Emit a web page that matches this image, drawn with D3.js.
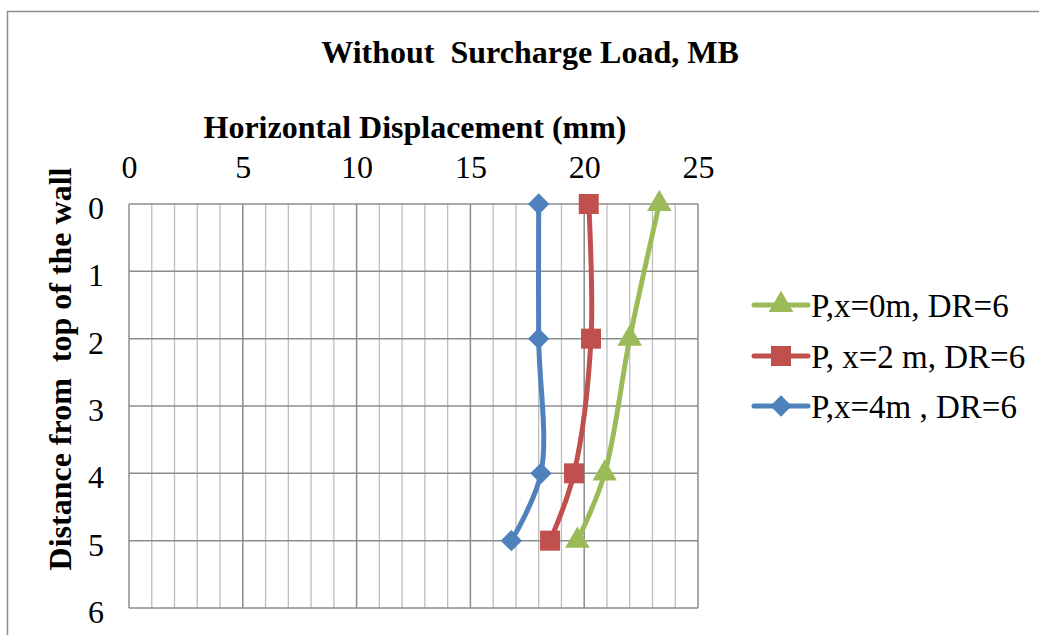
<!DOCTYPE html>
<html><head><meta charset="utf-8">
<script src="https://cdn.jsdelivr.net/npm/d3@7"></script>
<style>
body{margin:0;background:#fff;}
svg{display:block;font-family:"Liberation Serif","Times New Roman",serif;}
text{white-space:pre;}
</style></head>
<body><svg id="c" width="1039" height="635"></svg>
<script>
const title = "Without  Surcharge Load, MB";
const xTitle = "Horizontal Displacement (mm)";
const yTitle = "Distance from  top of the wall";
const xTicks = [0, 5, 10, 15, 20, 25];
const yTicks = [0, 1, 2, 3, 4, 5, 6];
const depths = [0, 2, 4, 5];
const seriesNames = ["P,x=0m, DR=6", "P, x=2 m, DR=6", "P,x=4m , DR=6"];
const dispX0 = [23.3, 22.0, 20.9, 19.7];
const dispX2 = [20.2, 20.3, 19.55, 18.5];
const dispX4 = [18.0, 18.0, 18.1, 16.8];
const colors = ["#9BBB59", "#C0504D", "#4F81BD"];
const markers = [d3.symbolTriangle, d3.symbolSquare, d3.symbolDiamond2];
const markerSizes = [260, 400, 290];

const series = [dispX0, dispX2, dispX4].map((v, i) => ({name: seriesNames[i], values: v, color: colors[i], marker: markers[i], size: markerSizes[i]}));

const svg = d3.select("#c");
const L = 129, R = 698, T = 204, B = 608;
const x = d3.scaleLinear().domain([0, 25]).range([L, R]);
const y = d3.scaleLinear().domain([0, 6]).range([T, B]);
const FS = 32;

// outer frame
svg.append("rect").attr("x", 7.5).attr("y", 11.5).attr("width", 1100).attr("height", 700)
  .attr("fill", "none").attr("stroke", "#8c8c8c").attr("stroke-width", 1.5);

// minor vertical gridlines
const minor = d3.range(0, 26, 1).filter(d => d % 5 !== 0);
svg.append("g").selectAll("line").data(minor).join("line")
  .attr("x1", d => x(d)).attr("x2", d => x(d)).attr("y1", T).attr("y2", B)
  .attr("stroke", "#bdbdbd").attr("stroke-width", 1.3);
// major vertical
svg.append("g").selectAll("line").data(xTicks).join("line")
  .attr("x1", d => x(d)).attr("x2", d => x(d)).attr("y1", T).attr("y2", B)
  .attr("stroke", "#8c8c8c").attr("stroke-width", 1.5);
// horizontal
svg.append("g").selectAll("line").data(yTicks).join("line")
  .attr("x1", L).attr("x2", R).attr("y1", d => y(d)).attr("y2", d => y(d))
  .attr("stroke", "#8c8c8c").attr("stroke-width", 1.5);

// axes labels via d3 axes
const xAxis = svg.append("g").attr("transform", `translate(0,${T})`)
  .call(d3.axisTop(x).tickValues(xTicks).tickFormat(d3.format("d")).tickSize(0).tickPadding(26));
xAxis.select(".domain").remove();
xAxis.selectAll("text").attr("font-size", FS).attr("fill", "#000").attr("font-family", "Liberation Serif");

const yAxis = svg.append("g").attr("transform", `translate(${L},0)`)
  .call(d3.axisLeft(y).tickValues(yTicks).tickFormat(d3.format("d")).tickSize(0).tickPadding(25));
yAxis.select(".domain").remove();
yAxis.selectAll("text").attr("font-size", FS).attr("fill", "#000").attr("font-family", "Liberation Serif").attr("dy", "0.45em");

// titles
svg.append("text").attr("x", 530).attr("y", 63).attr("text-anchor", "middle")
  .attr("font-size", FS).attr("font-weight", "bold").text(title);
svg.append("text").attr("x", 415).attr("y", 138).attr("text-anchor", "middle")
  .attr("font-size", FS).attr("font-weight", "bold").text(xTitle);
svg.append("text").attr("transform", "translate(71,369) rotate(-90)").attr("text-anchor", "middle")
  .attr("font-size", FS).attr("font-weight", "bold").text(yTitle);

// lines
const line = d3.line().x(d => x(d[0])).y(d => y(d[1])).curve(d3.curveCatmullRom.alpha(0.5));
series.forEach(s => {
  const pts = s.values.map((v, i) => [v, depths[i]]);
  svg.append("path").attr("d", line(pts)).attr("fill", "none")
    .attr("stroke", s.color).attr("stroke-width", 5).attr("stroke-linecap", "round");
});
series.forEach(s => {
  const pts = s.values.map((v, i) => [v, depths[i]]);
  svg.append("g").selectAll("path").data(pts).join("path")
    .attr("transform", d => `translate(${x(d[0])},${y(d[1])})`)
    .attr("d", d3.symbol().type(s.marker).size(s.size)).attr("fill", s.color);
});

// legend
const leg = svg.append("g");
const legY = [305, 356, 406];
series.forEach((s, i) => {
  const g = leg.append("g").attr("transform", `translate(0,${legY[i]})`);
  g.append("line").attr("x1", 754).attr("x2", 808).attr("y1", 0).attr("y2", 0)
    .attr("stroke", s.color).attr("stroke-width", 5).attr("stroke-linecap", "round");
  g.append("path").attr("transform", "translate(781,0)").attr("d", d3.symbol().type(s.marker).size(s.size)).attr("fill", s.color);
  g.append("text").attr("x", 811).attr("y", 0).attr("dy", "0.35em").attr("font-size", 33).text(s.name);
});
</script></body></html>
